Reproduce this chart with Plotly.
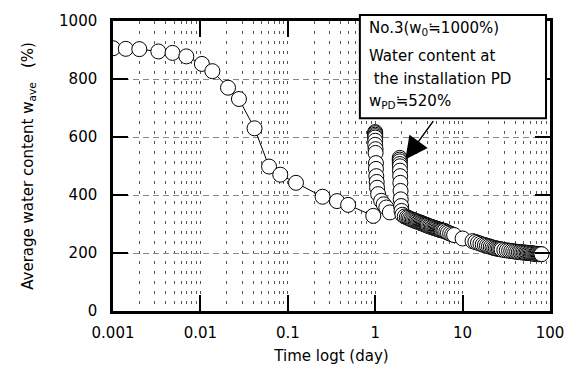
import plotly.graph_objects as go

# ---- data ----
stage1_t = [0.001, 0.0014, 0.002, 0.0033, 0.0048, 0.0069, 0.0104, 0.0137, 0.0207, 0.0276,
            0.0416, 0.061, 0.082, 0.124, 0.25, 0.365, 0.49, 0.95]
stage1_w = [906, 904, 903, 895, 890, 878, 852, 827, 770, 731,
            630, 498, 470, 442, 394, 379, 366, 328]

stage2_t = [1.0, 1.0, 1.0, 1.0, 1.0, 1.0, 1.0, 1.01, 1.01, 1.02, 1.02, 1.03, 1.04,
            1.05, 1.08, 1.17, 1.25, 1.34, 1.47]
stage2_w = [617, 613, 608, 603, 598, 587, 573, 558, 545, 510, 490, 465, 445,
            425, 403, 380, 368, 357, 340]

stage3_t = [1.91, 1.91, 1.91, 1.91, 1.92, 1.92, 1.93, 1.94, 1.95, 1.96, 1.98, 2.0, 2.05,
            2.18, 2.3, 2.4, 2.5, 2.6, 2.7, 2.8, 2.9, 3.0, 3.1, 3.2, 3.3, 3.4, 3.5, 3.6,
            3.7, 3.8, 3.9, 4.0, 4.15, 4.3, 4.45, 4.6, 4.75, 4.9, 5.05, 5.2, 5.35, 5.5,
            5.65, 5.8, 6.0, 6.2, 6.5, 6.8, 7.2, 7.6, 8.0, 10.0, 13.0, 14.0, 15.0, 16.0,
            17.0, 18.0, 19.0, 20.0, 21.0, 22.0, 23.0, 24.0, 25.0, 26.0, 27.0, 28.0, 30.0,
            32.0, 34.0, 36.0, 38.0, 40.0, 42.0, 44.0, 46.0, 48.0, 50.0, 52.0, 54.0, 56.0,
            58.0, 60.0, 62.0, 64.0, 66.0, 68.0, 70.0, 72.0, 74.0, 76.0, 78.0, 80.0]
stage3_w = [528, 522, 516, 507, 499, 484, 465, 442, 414, 385, 362, 345, 332,
            326, 323, 321, 318, 316, 314, 312, 310, 309, 307, 306, 304, 303, 301, 300,
            298, 297, 296, 294, 292, 291, 289, 288, 286, 285, 284, 282, 281, 280,
            279, 278, 277, 276, 273, 270, 267, 264, 262, 250, 241, 238, 235, 232,
            229, 227, 225, 223, 221, 219, 217, 216, 215, 214, 213, 212, 210,
            209, 208, 207, 206, 205, 204, 203, 203, 202, 202, 201, 201, 200,
            200, 199, 199, 198, 198, 197, 197, 197, 196, 196, 196, 196]

x_tickvals = [0.001, 0.01, 0.1, 1, 10, 100]
x_ticktext = ["0.001", "0.01", "0.1", "1", "10", "100"]
y_tickvals = [0, 200, 400, 600, 800, 1000]

minor_vals = [m * d for d in [0.001, 0.01, 0.1, 1, 10] for m in range(2, 10)]

FONT = "DejaVu Sans"

marker = dict(symbol="circle", size=15, color="white", line=dict(color="black", width=1))

fig = go.Figure()
fig.add_trace(go.Scatter(x=stage1_t, y=stage1_w, mode="lines+markers",
                         line=dict(color="black", width=1), marker=marker, showlegend=False))
fig.add_trace(go.Scatter(x=stage2_t, y=stage2_w, mode="markers",
                         marker=marker, showlegend=False))
fig.add_trace(go.Scatter(x=stage3_t, y=stage3_w, mode="markers",
                         marker=marker, showlegend=False))

fig.update_layout(
    width=576, height=374,
    margin=dict(l=113, r=24, t=19, b=63),
    paper_bgcolor="white", plot_bgcolor="white",
    font=dict(family=FONT, size=15, color="black"),
    xaxis=dict(
        type="log", range=[-3, 2],
        tickvals=x_tickvals, ticktext=x_ticktext,
        ticks="inside", ticklen=16, tickwidth=2, tickcolor="black",
        showline=True, linecolor="black", linewidth=2.5, mirror="ticks",
        showgrid=True, gridcolor="#555", gridwidth=1, griddash="3px,7px",
        minor=dict(tickvals=minor_vals, showgrid=True, gridcolor="#555",
                   gridwidth=1, griddash="3px,7px", ticks=""),
        ticklabelstandoff=6,
        title=dict(text="Time logt (day)", font=dict(size=15), standoff=10),
        zeroline=False,
    ),
    yaxis=dict(
        range=[0, 1000], tickvals=y_tickvals,
        ticks="inside", ticklen=15, tickwidth=2, tickcolor="black",
        showline=True, linecolor="black", linewidth=2.5, mirror="ticks",
        showgrid=True, gridcolor="#888", gridwidth=1, griddash="6px,4px",
        ticklabelstandoff=10,
        title=dict(text="Average water content w<sub>ave</sub>   (%)", font=dict(size=15), standoff=22),
        zeroline=False,
    ),
)

# annotation box
x0p = (361 - 113) / 439
x1p = (548 - 113) / 439
y0p = (311 - 117) / 292
y1p = (311 - 13) / 292
fig.add_shape(type="rect", xref="paper", yref="paper", x0=x0p, x1=x1p, y0=y0p, y1=y1p,
              line=dict(color="black", width=2), fillcolor="white", layer="above")

lines = ["No.3(w<sub>0</sub>≒1000%)", "Water content at", " the installation PD",
         "w<sub>PD</sub>≒520%"]
line_y = [27, 54, 77, 100]
for txt, py in zip(lines, line_y):
    fig.add_annotation(xref="paper", yref="paper", x=(368 - 113) / 439, y=(311 - py) / 292,
                       text=txt, showarrow=False, xanchor="left", yanchor="middle",
                       font=dict(size=15, family=FONT, color="black"))

# arrow
fig.add_annotation(x=0.345, y=522, xref="x", yref="y", text="", showarrow=True,
                   arrowhead=2, arrowsize=3, arrowwidth=1.5, arrowcolor="black",
                   ax=29, ay=-40)

fig.write_html("out.html")
